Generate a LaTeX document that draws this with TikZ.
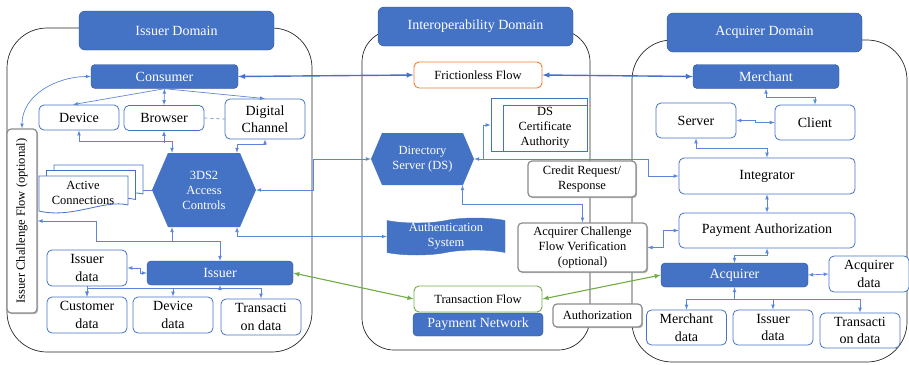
\documentclass[tikz,border=0pt]{standalone}
\usepackage{fontspec}
\setmainfont{Liberation Serif}
\usepackage{graphicx}
\usetikzlibrary{shapes.symbols,shadows}

\definecolor{domblue}{HTML}{4472C4}
\definecolor{edgeblue}{HTML}{2F528F}
\definecolor{linkblue}{HTML}{5B87D6}
\definecolor{flowgreen}{HTML}{70AD47}
\definecolor{floworange}{HTML}{ED7D31}

\begin{document}
\begin{tikzpicture}[x=1pt,y=-1pt,>=latex,
  font=\rmfamily\fontsize{14}{17.5}\selectfont,
  domframe/.style={draw=black!85, line width=0.7pt},
  header/.style={fill=domblue, draw=edgeblue, line width=0.4pt, rounded corners=6pt,
    text=white, minimum width=195pt, minimum height=39pt},
  bluebox/.style={fill=domblue, draw=edgeblue, line width=0.4pt, rounded corners=4pt,
    text=white, minimum width=147pt, minimum height=24pt, inner sep=1pt},
  databox/.style={draw=domblue, fill=white, line width=0.8pt, rounded corners=5pt,
    minimum width=80pt, minimum height=36pt, align=center, inner sep=1pt},
  small/.style={font=\rmfamily\fontsize{12.5}{15}\selectfont},
  flowbox/.style={fill=white, line width=0.9pt, rounded corners=5pt, small,
    minimum width=128pt, minimum height=26pt},
  greybox/.style={draw=black!45, line width=1.2pt, fill=white, rounded corners=4pt,
    align=center, inner sep=1pt, small,
    drop shadow={shadow xshift=1.2pt, shadow yshift=-1.2pt, fill=black!55}},
  hexnode/.style={text=white, align=center, inner sep=0pt, small},
  link/.style={draw=linkblue, line width=0.7pt},
  mainlink/.style={draw=domblue, line width=1.4pt, <->},
  greenlink/.style={draw=flowgreen, line width=1.1pt, <->}
]
\useasboundingbox (0,0) rectangle (909,364);

% draw the three domains
\draw[domframe, rounded corners=40pt] (7,28) rectangle (312,352);
\draw[domframe, rounded corners=32pt] (362,30) rectangle (590,350);
\draw[domframe, rounded corners=40pt] (632,40) rectangle (907,362);

\node[header] (issdom) at (176.5,30.5) {Issuer Domain};
\node[header] (intdom) at (475.5,26.5) {Interoperability Domain};
\node[header] (acqdom) at (764.5,32.5) {Acquirer Domain};

% issuer domain
\node[bluebox] (consumer) at (164.5,76.5) {Consumer};
\node[databox, minimum height=25pt] (device) at (79,117.5) {Device};
\node[databox, minimum height=25pt] (browser) at (164,118) {Browser};
\node[databox, minimum height=40pt] (digital) at (265,119) {Digital\\Channel};
\node[greybox, minimum width=30pt, minimum height=184pt] (icf) at (22,221)
  {\rotatebox{90}{Issuer Challenge Flow (optional)}};

% stacked documents
\foreach \d in {2,1,0}
  \filldraw[fill=white, draw=domblue, line width=0.8pt]
    ({39+7.5*\d},{176-5.5*\d}) -- ({128+7.5*\d},{176-5.5*\d}) -- ({128+7.5*\d},{205-5.5*\d})
    .. controls ({105+7.5*\d},{199-5.5*\d}) and ({72+7.5*\d},{219-5.5*\d}) .. ({39+7.5*\d},{211-5.5*\d}) -- cycle;
\node[small, align=center, inner sep=0pt] (actcon) at (83,193) {Active\\Connections};
\coordinate (acback) at (143,190);

\fill[domblue] (152,190) -- (168,153) -- (240,153) -- (256,190) -- (240,227) -- (168,227) -- cycle;
\node[hexnode, minimum width=104pt, minimum height=74pt] (acs) at (204,190) {3DS2\\Access\\Controls};

\node[bluebox, minimum width=146pt] (issuer) at (220,273) {Issuer};
\node[databox] (issdata) at (87,268) {Issuer\\data};
\node[databox] (custdata) at (87,315) {Customer\\data};
\node[databox] (devdata) at (173,315) {Device\\data};
\node[databox] (trdata) at (261,317) {Transacti\\on data};

% interoperability domain
\node[flowbox, draw=floworange] (frictionless) at (478,75) {Frictionless Flow};
\draw[domblue, line width=0.8pt, fill=white] (491,98) rectangle (587,151);
\node[draw=domblue, line width=0.8pt, minimum width=84pt, minimum height=46pt,
  align=center, small, inner sep=0pt] (dsca) at (545,128) {DS\\Certificate\\Authority};

\fill[domblue] (371,159) -- (382,133) -- (463,133) -- (474,159) -- (463,185) -- (382,185) -- cycle;
\node[hexnode, minimum width=103pt, minimum height=52pt] (ds) at (422.5,159) {Directory\\Server (DS)};

\node[greybox, minimum width=108pt, minimum height=36pt] (credit) at (582,179) {Credit Request/\\Response};
\node[tape, fill=domblue, draw=domblue, hexnode, minimum width=118pt, minimum height=37pt]
  (auth) at (446,236.5) {Authentication\\System};
\node[greybox, minimum width=129pt, minimum height=49pt] (acfv) at (582.5,247.5)
  {Acquirer Challenge\\Flow Verification\\(optional)};
\node[flowbox, draw=flowgreen] (trflow) at (478,299) {Transaction Flow};
\node[bluebox, minimum width=130pt, minimum height=23pt] (paynet) at (478,324.5) {Payment Network};
\node[greybox, minimum width=89pt, minimum height=23pt] (authz) at (597.5,315.5) {Authorization};

% acquirer domain
\node[bluebox, minimum width=146pt] (merchant) at (766,76.5) {Merchant};
\node[databox, minimum height=35pt] (server) at (696,120.5) {Server};
\node[databox, minimum height=35pt] (client) at (815,122.5) {Client};
\node[databox, minimum width=176pt] (integrator) at (767,176) {Integrator};
\node[databox, minimum width=176pt, minimum height=35pt] (payauth) at (767,230.5) {Payment Authorization};
\node[bluebox] (acquirer) at (734.5,275) {Acquirer};
\node[databox] (acqdata) at (869,274) {Acquirer\\data};
\node[databox, minimum height=35pt] (merdata) at (686.5,327.5) {Merchant\\data};
\node[databox, minimum height=35pt] (issdata2) at (773,327.5) {Issuer\\data};
\node[databox, minimum height=35pt] (trdata2) at (860,330.5) {Transacti\\on data};

% draw the flows
\draw[mainlink] (consumer.east) -- (frictionless.west);
\draw[mainlink] (frictionless.east) -- (merchant.west);
\draw[greenlink] (issuer.east) -- (trflow.west);
\draw[greenlink] (trflow.east) -- (acquirer.west);

% issuer links
\draw[link, <->] (consumer.west) to[out=180, in=90] (icf.north);
\draw[link, ->] (consumer.south) -- ([xshift=-6pt]device.north);
\draw[link, <->] (consumer.south) -- (browser.north);
\draw[link, ->] (consumer.south) -- (digital.north);
\draw[link, dashed] (browser.east) -- (digital.west);
\draw[link, <->] (device.south) |- ([xshift=-32pt, yshift=11pt]acs.north) -- ([xshift=-32pt]acs.north);
\draw[link, <-] (browser.south) -- ++(0,12);
\draw[link, <->] (digital.south) |- ([xshift=33pt, yshift=8pt]acs.north) -- ([xshift=33pt]acs.north);
\draw[link] (acback) -- (acs.west);
\draw[link, <->] (acs.east) -- ++(57,0) |- (ds.west);
\draw[link, <->] ([xshift=33pt]acs.south) |- (auth.west);
\draw[link, <-] ([xshift=-32pt]acs.south) -- ++(0,14);
\draw[link, <->] (icf.east) -| (96,241) -| (issuer.north);
\draw[link, <->] (issdata.east) -- ++(13,0) |- (issuer.west);
\draw[link, ->] (issdata.south) -- (custdata.north);
\draw[link, <->] (issuer.south) -- ++(0,3) -| (custdata.north);
\draw[link, ->] (issuer.south) ++(0,3) -| (devdata.north);
\draw[link, ->] (issuer.south) ++(0,3) -| (trdata.north);

% interoperability links
\draw[link, <->] (ds.east) -- ++(174,0) |- (integrator.west);
\draw[link, ->] ([xshift=9pt]ds.east) |- ([xshift=-12pt, yshift=3pt]dsca.west);
\draw[link, <->] ([xshift=40pt]ds.south) -- ++(0,19) -| (acfv.north);
\draw[link, <->] (acfv.east) -- ++(16,0) |- (payauth.west);

% acquirer links
\draw[link, <->] (merchant.south) -- ++(0,9) -| (client.north);
\draw[link, <->] (server.east) -- ++(19,0) |- (client.west);
\draw[link, <->] (server.south) -- ++(0,10) -| (integrator.north);
\draw[link, <->] (integrator.south) -- (payauth.north);
\draw[link, <->] (payauth.south) -- ++(0,7) -| (acquirer.north);
\draw[link, <->] (acquirer.east) -- (acqdata.west);
\draw[link, <->] (acquirer.south) -- ++(0,12) -| (merdata.north);
\draw[link, ->] (acquirer.south) ++(0,12) -| (issdata2.north);
\draw[link, ->] (acquirer.south) ++(0,12) -| (trdata2.north);

\end{tikzpicture}
\end{document}
